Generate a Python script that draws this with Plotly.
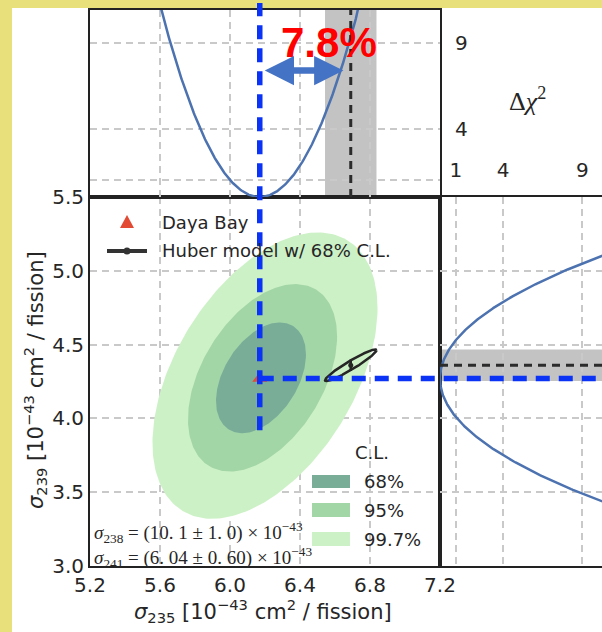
import numpy as np
import plotly.graph_objects as go

W, H = 602, 632

# ---------------- data ----------------
db_name = "Daya Bay"
db_sigma235, db_err235 = 6.17, 0.17
db_sigma239, db_err239 = 4.27, 0.26

huber_name = "Huber model w/ 68% C.L."
huber_sigma235, huber_err235 = 6.69, 0.147
huber_sigma239, huber_err239 = 4.36, 0.107
huber_rho = 0.95

cl_title = "C.L."
cl_labels = ["68%", "95%", "99.7%"]
cl_center235 = [6.177, 6.186, 6.20]
cl_center239 = [4.275, 4.275, 4.29]
cl_half235 = [0.257, 0.426, 0.643]
cl_half239 = [0.375, 0.635, 0.97]
cl_rho = [0.42, 0.44, 0.47]

x_ticks = [5.2, 5.6, 6.0, 6.4, 6.8, 7.2]
y_ticks = [3.0, 3.5, 4.0, 4.5, 5.0, 5.5]
dchi2_ticks = [1, 4, 9]
dchi2_top_labels = ["", "4", "9"]

deficit_label = "7.8%"
sigma238_text = "<i>σ</i><sub>238</sub> = (10. 1 ± 1. 0) × 10<sup>−43</sup>"
sigma241_text = "<i>σ</i><sub>241</sub> = (6. 04 ± 0. 60) × 10<sup>−43</sup>"
x_title = "<i>σ</i><sub>235</sub> [10<sup>−43</sup> cm<sup>2</sup> / fission]"
y_title = "<i>σ</i><sub>239</sub> [10<sup>−43</sup> cm<sup>2</sup> / fission]"
dchi2_title = "Δ<i>χ</i><sup>2</sup>"

# ---------------- styles ----------------
cl_colors = ["#79ad98", "#a2d6a7", "#cdf1c6"]
curve_color = "#4c72b0"
txt = "#262626"
grid = "#c9c9c9"
sans = "DejaVu Sans"
serif = "Liberation Serif"


def fx(p):
    return p / W


def fy(p):
    return 1 - p / H


def ellipse(cx, cy, hx, hy, rho, n=240):
    t = np.linspace(0, 2 * np.pi, n)
    return cx + hx * np.cos(t), cy + hy * (rho * np.cos(t) + np.sqrt(1 - rho ** 2) * np.sin(t))


fig = go.Figure()

# contours (largest first)
for i in reversed(range(len(cl_labels))):
    ex, ey = ellipse(cl_center235[i], cl_center239[i], cl_half235[i], cl_half239[i], cl_rho[i])
    fig.add_trace(go.Scatter(x=ex, y=ey, fill="toself", fillcolor=cl_colors[i],
                             line=dict(width=0), mode="lines", xaxis="x", yaxis="y",
                             name=cl_labels[i], showlegend=False, hoverinfo="skip"))

# Huber ellipse
hx_, hy_ = ellipse(huber_sigma235, huber_sigma239, huber_err235, huber_err239, huber_rho)
fig.add_trace(go.Scatter(x=hx_, y=hy_, mode="lines", line=dict(color="#262626", width=2.5),
                         xaxis="x", yaxis="y", showlegend=False, hoverinfo="skip"))
fig.add_trace(go.Scatter(x=[huber_sigma235], y=[huber_sigma239], mode="markers",
                         marker=dict(symbol="line-ns", size=8, line=dict(color="#262626", width=2.5)),
                         xaxis="x", yaxis="y", showlegend=False))
fig.add_trace(go.Scatter(x=[huber_sigma235], y=[huber_sigma239], mode="markers",
                         marker=dict(symbol="circle", size=5, color="#262626"),
                         xaxis="x", yaxis="y", showlegend=False))

# Daya Bay point
fig.add_trace(go.Scatter(x=[db_sigma235], y=[db_sigma239], mode="markers",
                         marker=dict(symbol="triangle-up", size=13, color="#e24a33"),
                         xaxis="x", yaxis="y", showlegend=False))

# top panel parabola
xs = np.linspace(5.2, 7.2, 500)
fig.add_trace(go.Scatter(x=xs, y=((xs - db_sigma235) / db_err235) ** 2, mode="lines",
                         line=dict(color=curve_color, width=2.5), xaxis="x2", yaxis="y2",
                         showlegend=False))

# right panel parabola
ys = np.linspace(3.0, 5.5, 500)
fig.add_trace(go.Scatter(x=((ys - db_sigma239) / db_err239) ** 2, y=ys, mode="lines",
                         line=dict(color=curve_color, width=2.5), xaxis="x3", yaxis="y3",
                         showlegend=False))

axis_common = dict(showgrid=True, gridcolor=grid, gridwidth=1.5, griddash="7px,5px",
                   zeroline=False, showline=True, linecolor="#222222", linewidth=2,
                   automargin=False,
                   ticks="", tickfont=dict(family=sans, size=20, color=txt))

shapes = []
# white figure area
shapes.append(dict(type="rect", xref="paper", yref="paper", x0=fx(12), x1=1.0, y0=0, y1=fy(8),
                   fillcolor="white", line=dict(width=0), layer="below"))
# Huber bands
shapes.append(dict(type="rect", xref="x2", yref="y2 domain",
                   x0=huber_sigma235 - huber_err235, x1=huber_sigma235 + huber_err235, y0=0, y1=1,
                   fillcolor="#c3c3c3", line=dict(width=0), layer="below"))
shapes.append(dict(type="rect", xref="x3 domain", yref="y3",
                   x0=0, x1=1, y0=huber_sigma239 - huber_err239, y1=huber_sigma239 + huber_err239,
                   fillcolor="#c3c3c3", line=dict(width=0), layer="below"))
# Huber dashed lines
shapes.append(dict(type="line", xref="x2", yref="y2 domain", x0=huber_sigma235, x1=huber_sigma235,
                   y0=0, y1=1, line=dict(color="#2b2b2b", width=3, dash="8px,6px")))
shapes.append(dict(type="line", xref="x3 domain", yref="y3", x0=0, x1=1,
                   y0=huber_sigma239, y1=huber_sigma239, line=dict(color="#2b2b2b", width=3, dash="8px,6px")))
# blue guide lines
shapes.append(dict(type="line", xref="x", yref="y domain", x0=db_sigma235, x1=db_sigma235,
                   y0=(3.92 - 3.0) / 2.5, y1=1.526, line=dict(color="#0a33f5", width=5.5, dash="14px,9px")))
shapes.append(dict(type="line", xref="x domain", yref="y", x0=(db_sigma235 - 5.2) / 2.0, x1=1.8,
                   y0=db_sigma239, y1=db_sigma239, line=dict(color="#0a33f5", width=5.5, dash="14px,9px")))

# legend 1 symbols
tx, ty, th = 127, 222, 7
shapes.append(dict(type="path", xref="paper", yref="paper",
                   path=f"M{fx(tx - th)},{fy(ty + 6)} L{fx(tx + th)},{fy(ty + 6)} L{fx(tx)},{fy(ty - 7)} Z",
                   fillcolor="#e24a33", line=dict(width=0)))
shapes.append(dict(type="line", xref="paper", yref="paper", x0=fx(107), x1=fx(147), y0=fy(251), y1=fy(251),
                   line=dict(color="#333333", width=4)))
shapes.append(dict(type="circle", xref="paper", yref="paper", x0=fx(123.5), x1=fx(130.5),
                   y0=fy(254.5), y1=fy(247.5), fillcolor="#333333", line=dict(width=0)))
# C.L. legend swatches
sw_y = [(475, 488), (503, 517), (532, 546)]
for i, (a, b) in enumerate(sw_y):
    shapes.append(dict(type="rect", xref="paper", yref="paper", x0=fx(312), x1=fx(350),
                       y0=fy(b), y1=fy(a), fillcolor=cl_colors[i], line=dict(width=0)))

annotations = []
annotations.append(dict(xref="paper", yref="paper", x=fx(160), y=fy(222), text=db_name,
                        showarrow=False, xanchor="left", yanchor="middle",
                        font=dict(family=sans, size=18, color=txt)))
annotations.append(dict(xref="paper", yref="paper", x=fx(160), y=fy(250), text=huber_name,
                        showarrow=False, xanchor="left", yanchor="middle",
                        font=dict(family=sans, size=18, color=txt)))
annotations.append(dict(xref="paper", yref="paper", x=fx(353), y=fy(452), text=cl_title,
                        showarrow=False, xanchor="left", yanchor="middle",
                        font=dict(family=sans, size=18, color=txt)))
for i, (a, b) in enumerate(sw_y):
    annotations.append(dict(xref="paper", yref="paper", x=fx(362), y=fy((a + b) / 2), text=cl_labels[i],
                            showarrow=False, xanchor="left", yanchor="middle",
                            font=dict(family=sans, size=18, color=txt)))
annotations.append(dict(xref="paper", yref="paper", x=fx(92), y=fy(532), text=sigma238_text,
                        showarrow=False, xanchor="left", yanchor="middle",
                        font=dict(family=serif, size=19, color=txt)))
annotations.append(dict(xref="paper", yref="paper", x=fx(92), y=fy(557), text=sigma241_text,
                        showarrow=False, xanchor="left", yanchor="middle",
                        font=dict(family=serif, size=19, color=txt)))
annotations.append(dict(xref="paper", yref="paper", x=fx(263), y=fy(611), text=x_title,
                        showarrow=False, xanchor="center", yanchor="middle",
                        font=dict(family=sans, size=21, color=txt)))
annotations.append(dict(xref="paper", yref="paper", x=fx(35), y=fy(380), text=y_title, textangle=-90,
                        showarrow=False, xanchor="center", yanchor="middle",
                        font=dict(family=sans, size=21, color=txt)))
annotations.append(dict(xref="paper", yref="paper", x=fx(527), y=fy(100), text=dchi2_title,
                        showarrow=False, xanchor="center", yanchor="middle",
                        font=dict(family=serif, size=26, color=txt)))
annotations.append(dict(xref="paper", yref="paper", x=fx(329), y=fy(42), text=f"<b>{deficit_label}</b>",
                        showarrow=False, xanchor="center", yanchor="middle",
                        font=dict(family="Liberation Sans", size=42, color="#ff0000")))
annotations.append(dict(xref="x2", yref="y2", axref="x2", ayref="y2", x=6.648, y=7.4, ax=6.19, ay=7.4,
                        text="", showarrow=True, arrowhead=2, startarrowhead=2, arrowside="end+start",
                        arrowsize=0.9, startarrowsize=0.9, arrowwidth=6.5, arrowcolor="#4472c4",
                        standoff=0, startstandoff=0))

fig.update_layout(
    width=W, height=H, autosize=False,
    margin=dict(l=0, r=0, t=0, b=0, pad=0, autoexpand=False),
    paper_bgcolor="#e8e07a", plot_bgcolor="rgba(0,0,0,0)",
    showlegend=False,
    xaxis=dict(domain=[fx(90), fx(440)], range=[5.2, 7.2], anchor="y", mirror=True,
               tickvals=x_ticks, ticktext=[f"{v:.1f}" for v in x_ticks], **axis_common),
    yaxis=dict(domain=[fy(566), fy(197)], range=[3.0, 5.5], anchor="x", mirror=True,
               tickvals=y_ticks, ticktext=[f"{v:.1f}" for v in y_ticks], **axis_common),
    xaxis2=dict(domain=[fx(90), fx(440)], range=[5.2, 7.2], anchor="y2", matches="x", mirror=True,
                tickvals=x_ticks, showticklabels=False, **axis_common),
    yaxis2=dict(domain=[fy(197), fy(10)], range=[0, 10.94], anchor="x2", side="right", mirror=True,
                tickvals=dchi2_ticks, ticktext=dchi2_top_labels, ticklabelstandoff=9, **axis_common),
    xaxis3=dict(domain=[fx(440), 1.0], range=[0, 10.25], anchor="y3", side="top", mirror=True,
                tickvals=dchi2_ticks, ticktext=[str(v) for v in dchi2_ticks], ticklabelstandoff=10,
                **axis_common),
    yaxis3=dict(domain=[fy(566), fy(197)], range=[3.0, 5.5], anchor="x3", matches="y",
                tickvals=y_ticks, showticklabels=False, **axis_common),
    shapes=shapes,
    annotations=annotations,
)

fig.write_html("out.html")
